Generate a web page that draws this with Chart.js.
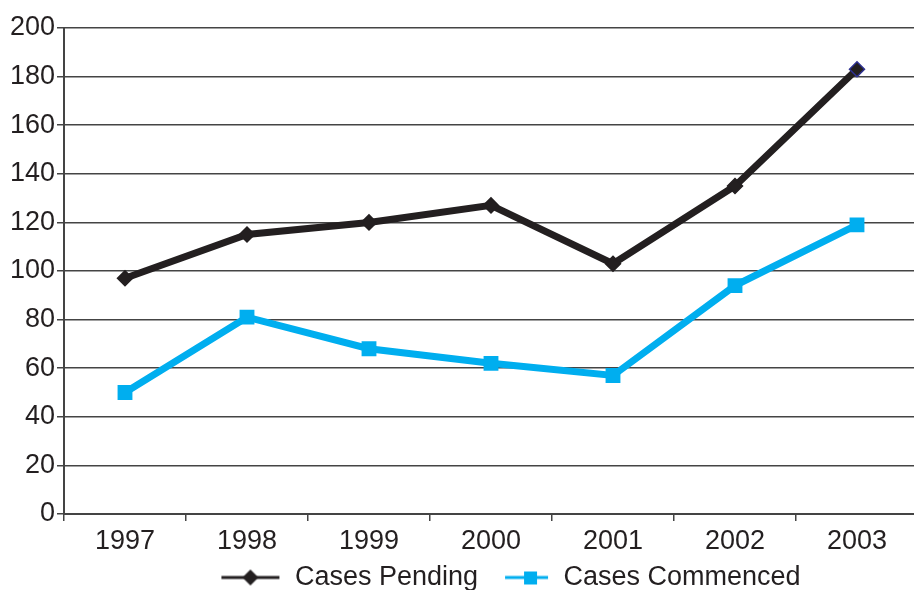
<!DOCTYPE html>
<html>
<head>
<meta charset="utf-8">
<script src="https://cdn.jsdelivr.net/npm/chart.js@4.4.0/dist/chart.umd.min.js"></script>
<style>
    html, body { margin: 0; padding: 0; background: #fff; overflow: hidden; }
    #wrap { width: 918px; height: 601px; position: relative; }
</style>
</head>
<body>
<div id="wrap"><canvas id="chart"></canvas></div>
<script>
    // Data
    const years = ['1997', '1998', '1999', '2000', '2001', '2002', '2003'];
    const casesPending = [97, 115, 120, 127, 103, 135, 183];
    const casesCommenced = [50, 81, 68, 62, 57, 94, 119];
    const yTicks = [0, 20, 40, 60, 80, 100, 120, 140, 160, 180, 200];

    const BLACK = '#231f20';
    const BLUE = '#00aeef';
    const TEXT = '#231f20';
    const FONT = { family: 'Liberation Sans, Arial, sans-serif', size: 27 };
    const SWATCH_W = 68;
    const LEGEND_SHIFT = 48; // legend sits right of centre in the original

    // line + marker swatch for the legend
    function legendSwatch(color, style) {
        const c = document.createElement('canvas');
        c.width = SWATCH_W; c.height = 20;
        const g = c.getContext('2d');
        g.strokeStyle = color;
        g.fillStyle = color;
        g.lineWidth = 3;
        g.beginPath();
        if (style === 'diamond') {
            g.moveTo(8, 10); g.lineTo(66, 10);
            g.stroke();
            g.beginPath();
            g.moveTo(37, 2); g.lineTo(45, 10); g.lineTo(37, 18); g.lineTo(29, 10);
            g.closePath();
            g.fill();
        } else {
            g.moveTo(23, 10); g.lineTo(66, 10);
            g.stroke();
            g.fillRect(42, 4, 13, 13);
        }
        return c;
    }

    const pendingBorder = casesPending.map((v, i) => i === casesPending.length - 1 ? '#2e3192' : BLACK);

    const shiftLegend = {
        id: 'shiftLegend',
        afterLayout(chart) {
            chart.legend.left += LEGEND_SHIFT;
            chart.legend.right += LEGEND_SHIFT;
        }
    };

    new Chart(document.getElementById('chart'), {
        type: 'line',
        data: {
            labels: years,
            datasets: [{
                label: 'Cases Pending',
                data: casesPending,
                borderColor: BLACK,
                backgroundColor: BLACK,
                borderWidth: 7,
                pointStyle: 'rectRot',
                pointRadius: 7.5,
                pointBorderWidth: 1.5,
                pointBorderColor: pendingBorder,
                pointBackgroundColor: BLACK,
                tension: 0
            }, {
                label: 'Cases Commenced',
                data: casesCommenced,
                borderColor: BLUE,
                backgroundColor: BLUE,
                borderWidth: 7,
                pointStyle: 'rect',
                pointRadius: 10.5,
                pointBorderWidth: 0,
                pointBackgroundColor: BLUE,
                tension: 0
            }]
        },
        plugins: [shiftLegend],
        options: {
            responsive: true,
            maintainAspectRatio: false,
            animation: false,
            layout: { autoPadding: false, padding: { top: 28, right: 0, left: 0, bottom: 0 } },
            plugins: {
                tooltip: { enabled: false },
                legend: {
                    position: 'bottom',
                    labels: {
                        color: TEXT,
                        font: FONT,
                        usePointStyle: true,
                        pointStyleWidth: SWATCH_W,
                        padding: 4,
                        generateLabels: function (chart) {
                            return chart.data.datasets.map((ds, i) => ({
                                text: ds.label,
                                datasetIndex: i,
                                fontColor: TEXT,
                                lineWidth: 0,
                                pointStyle: legendSwatch(ds.borderColor, i === 0 ? 'diamond' : 'square')
                            }));
                        }
                    }
                }
            },
            scales: {
                x: {
                    offset: true,
                    afterFit: scale => {
                        scale.paddingLeft = 0;
                        scale.paddingRight = 0;
                        scale.height = 46;
                    },
                    grid: {
                        offset: true,
                        drawOnChartArea: false,
                        drawTicks: true,
                        tickLength: 7,
                        color: '#444',
                        lineWidth: 1.5
                    },
                    border: { color: '#444', width: 2 },
                    ticks: { color: TEXT, font: FONT, padding: 4, maxRotation: 0 }
                },
                y: {
                    min: 0,
                    max: 200,
                    afterBuildTicks: scale => { scale.ticks = yTicks.map(v => ({ value: v })); },
                    afterFit: scale => {
                        scale.width = 64;
                        scale.paddingTop = 0;
                        scale.paddingBottom = 0;
                    },
                    grid: {
                        color: '#444',
                        lineWidth: 1.5,
                        tickLength: 7
                    },
                    border: { color: '#444', width: 2 },
                    ticks: { color: TEXT, font: FONT, padding: 2 }
                }
            }
        }
    });
</script>
</body>
</html>
